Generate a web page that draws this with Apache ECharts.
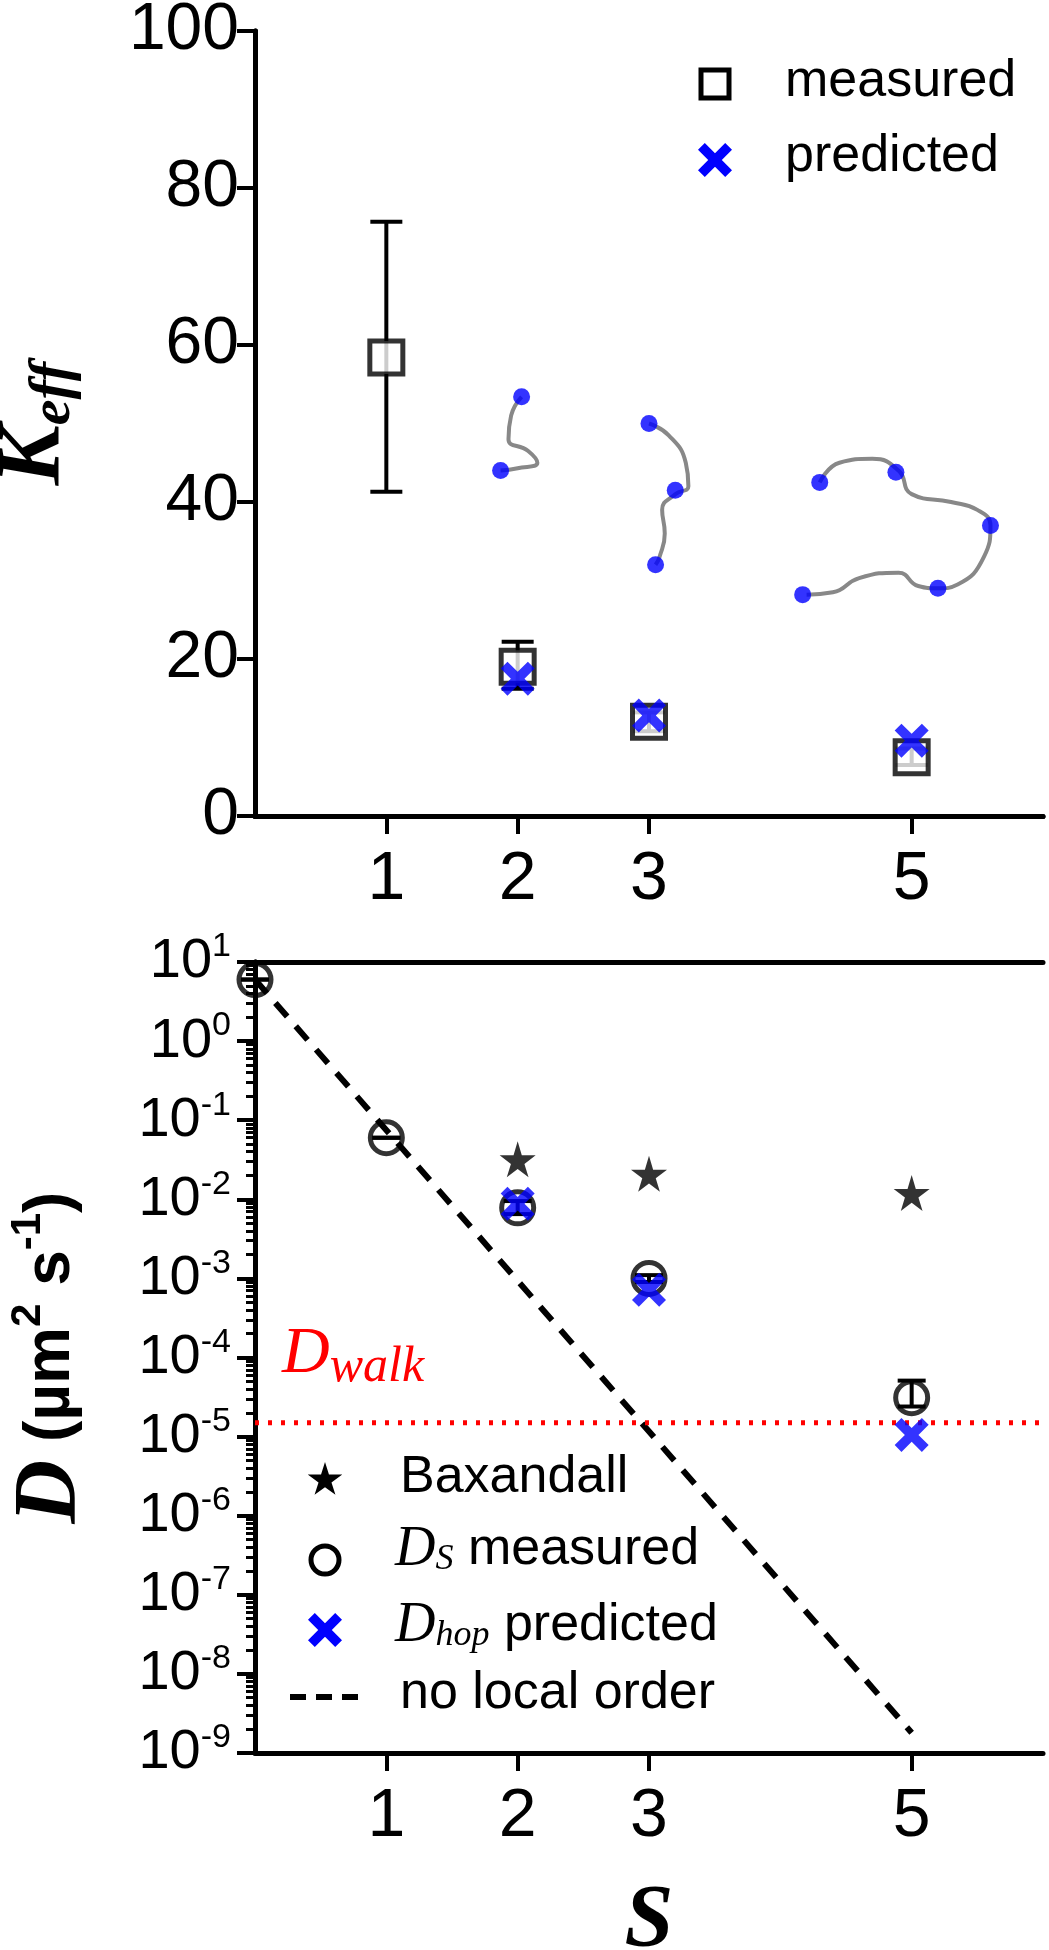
<!DOCTYPE html>
<html><head><meta charset="utf-8">
<script src="https://cdn.jsdelivr.net/npm/echarts@6/dist/echarts.min.js"></script>
<style>html,body{margin:0;padding:0;background:#fff}#c{width:1049px;height:1950px}</style>
</head><body><div id="c"></div>
<script>
// ---- data ----
const sTop = [1, 2, 3, 5];
const kMeasured = [58.4, 19, 12, 7.5];
const kErrLow = [41.3, 16.2, 10.8, 6.5];
const kErrHigh = [75.7, 22.2, 13.2, 8.6];
const kPredicted = [null, 17.5, 12.8, 9.6];
const xTicks = [1, 2, 3, 5];
const sBax = [2, 3, 5];
const dBax = [0.032, 0.021, 0.012];
const sDs = [0, 1, 2, 3, 5];
const dDs = [6, 0.06, 0.0078, 0.001, 3.1e-5];
const dDsErrHigh = [6, 0.06, 0.0095, 0.0011, 5.1e-5];
const dDsErrLow = [6, 0.06, 0.0065, 0.0009, 2.4e-5];
const sHop = [2, 3, 5];
const dHop = [0.0088, 0.00072, 1.05e-5];
const noOrderLine = [[0, 6], [5, 1.8e-9]];
const dWalk = 1.5e-5;
// polymer cartoons (decorative, data coords)
const poly1Curve = [[2.03,53.4],[1.95,51],[1.93,48],[2.08,46.5],[2.15,45],[2.0,44.3],[1.87,44]];
const poly1Dots = [[2.03,53.4],[1.87,44]];
const poly2Curve = [[3.0,50],[3.15,48.5],[3.28,45],[3.3,42],[3.2,41],[3.1,39],[3.12,36],[3.08,33],[3.05,32]];
const poly2Dots = [[3.0,50],[3.2,41.5],[3.05,32]];
const poly3Curve = [[4.3,42.5],[4.45,45],[4.7,45.5],[4.9,44],[5.0,41],[5.3,40],[5.5,39],[5.6,37],[5.55,33],[5.35,29.5],[5.2,29],[5.05,29.3],[4.9,31],[4.6,30.3],[4.4,28.5],[4.2,28.2]];
const poly3Dots = [[4.3,42.5],[4.88,43.8],[5.6,37],[4.17,28.2],[5.2,29]];

const FONT = 'Liberation Sans';
const SERIF = 'Liberation Serif';
const crossPath = 'path://M0,2L2,0L5,3L8,0L10,2L7,5L10,8L8,10L5,7L2,10L0,8L3,5Z';
const starPath = 'path://M50,0L61,35L98,35L68,57L79,91L50,70L21,91L32,57L2,35L39,35Z';
const crossPts = [[0,2],[2,0],[5,3],[8,0],[10,2],[7,5],[10,8],[8,10],[5,7],[2,10],[0,8],[3,5]];
const starPts = [[50,0],[61,35],[98,35],[68,57],[79,91],[50,70],[21,91],[32,57],[2,35],[39,35]];
function poly(pts, cx, cy, size, color){
  const k = pts===crossPts ? size/10 : size/100;
  return {type:'polygon', shape:{points:pts.map(p=>[cx-size/2+p[0]*k, cy-size/2+p[1]*k])}, style:{fill:color}};
}
const sup = {b:{fontSize:56, fontFamily:FONT, color:'#000'}, sup:{fontSize:34, verticalAlign:'top', padding:[0,0,30,0], fontFamily:FONT, color:'#000'}};

function errSeries(xi, yi, xs, lo, hi, cap){
  return {type:'custom', xAxisIndex:xi, yAxisIndex:yi, z:3, silent:true,
    data: xs.map((x,i)=>[x, lo[i], hi[i]]),
    renderItem:(p, api)=>{
      const a = api.coord([api.value(0), api.value(1)]);
      const b = api.coord([api.value(0), api.value(2)]);
      return {type:'group', children:[
        {type:'line', shape:{x1:a[0],y1:a[1],x2:b[0],y2:b[1]}, style:{stroke:'#000',lineWidth:4}},
        {type:'line', shape:{x1:a[0]-cap,y1:a[1],x2:a[0]+cap,y2:a[1]}, style:{stroke:'#000',lineWidth:4}},
        {type:'line', shape:{x1:b[0]-cap,y1:b[1],x2:b[0]+cap,y2:b[1]}, style:{stroke:'#000',lineWidth:4}}
      ]};
    }};
}
function curve(pts){return {type:'line',xAxisIndex:0,yAxisIndex:0,data:pts,smooth:0.5,showSymbol:false,lineStyle:{color:'#888',width:4},z:1,silent:true};}
function dots(pts){return {type:'scatter',xAxisIndex:0,yAxisIndex:0,data:pts,symbol:'circle',symbolSize:17,itemStyle:{color:'#0000ff'},z:2,silent:true};}

const axLine = {lineStyle:{color:'#000', width:5}};
const axTick = {inside:false, length:18, lineStyle:{color:'#000', width:4}};
const xLab = {customValues:xTicks, fontSize:68, fontFamily:FONT, color:'#000', margin:30};
const frame = (g, pos) => ({gridIndex:g, type:'value', min:0, max:6, position:pos, axisLine:axLine, axisTick:{show:false}, axisLabel:{show:false}, splitLine:{show:false}});
const chart = echarts.init(document.getElementById('c'), null, {renderer:'canvas'});
chart.setOption({
  animation:false,
  grid:[{left:255, right:6, top:31, height:785, outerBoundsMode:'none', containLabel:false},
        {left:255, right:6, top:962, height:791, outerBoundsMode:'none', containLabel:false}],
  xAxis:[
    {gridIndex:0, type:'value', min:0, max:6, axisLine:axLine,
     axisTick:{...axTick, customValues:xTicks}, axisLabel:xLab, splitLine:{show:false}},
    {gridIndex:1, type:'value', min:0, max:6, axisLine:axLine,
     axisTick:{...axTick, customValues:xTicks}, axisLabel:xLab,
     splitLine:{show:false}, name:'S', nameLocation:'middle', nameGap:125,
     nameTextStyle:{fontFamily:SERIF, fontStyle:'italic', fontWeight:'bold', fontSize:88, color:'#000'}},
    frame(0,'top'), frame(1,'top')
  ],
  yAxis:[
    {gridIndex:0, type:'value', min:0, max:100, interval:20, axisLine:axLine, axisTick:axTick,
     axisLabel:{fontSize:66, fontFamily:FONT, color:'#000', margin:16}, splitLine:{show:false},
     name:'{k|K}{e|eff}', nameLocation:'middle', nameGap:172, nameRotate:90,
     nameTextStyle:{rich:{k:{fontFamily:SERIF,fontStyle:'italic',fontWeight:'bold',fontSize:90,color:'#000'},
       e:{fontFamily:SERIF,fontStyle:'italic',fontWeight:'bold',fontSize:58,color:'#000',verticalAlign:'bottom',padding:[36,0,0,0]}}}},
    {gridIndex:1, type:'log', min:1e-9, max:10, logBase:10, axisLine:axLine, axisTick:axTick,
     minorTick:{show:true, splitNumber:9, length:9, lineStyle:{color:'#000', width:3}},
     axisLabel:{margin:24, formatter:v=>'{b|10}{sup|'+Math.round(Math.log10(v))+'}', rich:sup}, splitLine:{show:false},
     name:'{d|D}{u| (µm}{s|2}{u| s}{s|-1}{u|)}', nameLocation:'middle', nameGap:160, nameRotate:90,
     nameTextStyle:{rich:{d:{fontFamily:SERIF,fontStyle:'italic',fontWeight:'bold',fontSize:88,color:'#000'},
       u:{fontFamily:FONT,fontWeight:'bold',fontSize:64,color:'#000'},
       s:{fontFamily:FONT,fontWeight:'bold',fontSize:42,color:'#000',verticalAlign:'top',padding:[0,0,34,0]}}}},
    {gridIndex:0, type:'value', min:0, max:100, position:'right', axisLine:axLine, axisTick:{show:false}, axisLabel:{show:false}, splitLine:{show:false}},
    {gridIndex:1, type:'log', min:1e-9, max:10, position:'right', axisLine:axLine, axisTick:{show:false}, axisLabel:{show:false}, splitLine:{show:false}}
  ],
  series:[
    curve(poly1Curve), curve(poly2Curve), curve(poly3Curve),
    dots(poly1Dots), dots(poly2Dots), dots(poly3Dots),
    errSeries(0,0,sTop,kErrLow,kErrHigh,16),
    {type:'scatter', xAxisIndex:0, yAxisIndex:0, data:sTop.map((x,i)=>[x,kMeasured[i]]), symbol:'rect', symbolSize:33,
     itemStyle:{color:'#fff', borderColor:'#000', borderWidth:5}, z:4},
    {type:'scatter', xAxisIndex:0, yAxisIndex:0, data:sTop.map((x,i)=>[x,kPredicted[i]]).filter(d=>d[1]!=null), symbol:crossPath, symbolSize:34,
     itemStyle:{color:'#0000ff'}, z:5},
    errSeries(1,1,sDs,dDsErrLow,dDsErrHigh,14),
    {type:'line', xAxisIndex:1, yAxisIndex:1, data:noOrderLine, showSymbol:false, lineStyle:{color:'#000', width:6, type:[18,13]}, z:2},
    {type:'line', xAxisIndex:1, yAxisIndex:1, data:[[0,dWalk],[6,dWalk]], showSymbol:false, lineStyle:{color:'#ff0000', width:5, type:[4,9]}, z:2},
    {type:'scatter', xAxisIndex:1, yAxisIndex:1, data:sBax.map((x,i)=>[x,dBax[i]]), symbol:starPath, symbolSize:36, itemStyle:{color:'#000'}, z:4},
    {type:'scatter', xAxisIndex:1, yAxisIndex:1, data:sDs.map((x,i)=>[x,dDs[i]]), symbol:'circle', symbolSize:32,
     itemStyle:{color:'rgba(255,255,255,0)', borderColor:'#000', borderWidth:5}, z:4},
    {type:'scatter', xAxisIndex:1, yAxisIndex:1, data:sHop.map((x,i)=>[x,dHop[i]]), symbol:crossPath, symbolSize:34, itemStyle:{color:'#0000ff'}, z:5}
  ],
  graphic:[
    {type:'rect', shape:{x:701, y:70, width:28,height:28}, style:{fill:'#fff', stroke:'#000', lineWidth:5}},
    {type:'text', left:785, top:56, style:{text:'measured', font:'52px "Liberation Sans"', fill:'#000'}},
    poly(crossPts, 715, 160, 34, '#0000ff'),
    {type:'text', left:785, top:131, style:{text:'predicted', font:'52px "Liberation Sans"', fill:'#000'}},
    {type:'text', left:282, top:1322, style:{rich:{a:{fontFamily:SERIF,fontStyle:'italic',fontSize:66,fill:'#ff0000'},b:{fontFamily:SERIF,fontStyle:'italic',fontSize:50,fill:'#ff0000',verticalAlign:'bottom',padding:[26,0,0,0]}}, text:'{a|D}{b|walk}'}},
    poly(starPts, 325, 1480, 36, '#000'),
    {type:'text', left:400, top:1452, style:{text:'Baxandall', font:'52px "Liberation Sans"', fill:'#000'}},
    {type:'circle', shape:{cx:325, cy:1560, r:14}, style:{fill:'none', stroke:'#000', lineWidth:5}},
    {type:'text', left:395, top:1522, style:{rich:{a:{fontFamily:SERIF,fontStyle:'italic',fontSize:56,fill:'#000'},b:{fontFamily:SERIF,fontStyle:'italic',fontSize:36,fill:'#000',verticalAlign:'bottom',padding:[20,0,0,0]},c:{fontFamily:FONT,fontSize:52,fill:'#000'}}, text:'{a|D}{b|S}{c| measured}'}},
    poly(crossPts, 325, 1630, 34, '#0000ff'),
    {type:'text', left:395, top:1598, style:{rich:{a:{fontFamily:SERIF,fontStyle:'italic',fontSize:56,fill:'#000'},b:{fontFamily:SERIF,fontStyle:'italic',fontSize:36,fill:'#000',verticalAlign:'bottom',padding:[20,0,0,0]},c:{fontFamily:FONT,fontSize:52,fill:'#000'}}, text:'{a|D}{b|hop}{c| predicted}'}},
    {type:'line', shape:{x1:290, y1:1697, x2:360, y2:1697}, style:{stroke:'#000', lineWidth:6, lineDash:[16,10]}},
    {type:'text', left:400, top:1668, style:{text:'no local order', font:'52px "Liberation Sans"', fill:'#000'}}
  ]
});
</script></body></html>
